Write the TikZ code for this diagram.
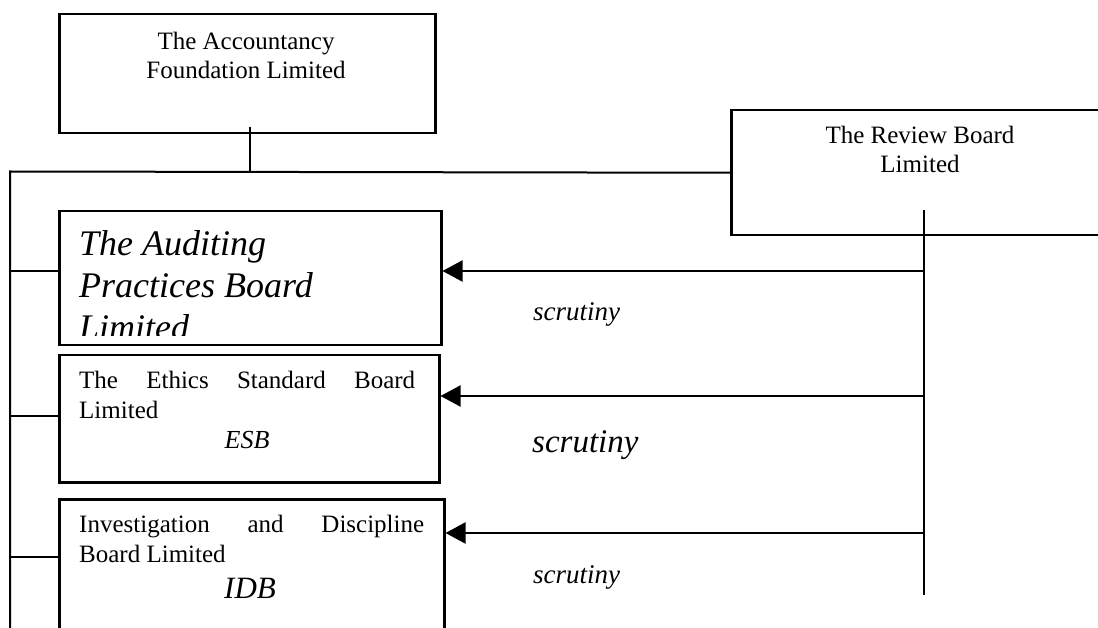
\documentclass[tikz,border=0pt]{standalone}
\usepackage{fontspec}
\setmainfont{Liberation Serif}
\usetikzlibrary{arrows.meta}
\hyphenpenalty=10000
\tolerance=10000
\begin{document}
\begin{tikzpicture}[x=1pt,y=-1pt]
  \tikzstyle{board}=[draw,line width=2.5pt,inner sep=0pt,anchor=north west]
  \tikzstyle{txt}=[inner sep=0pt,font=\fontsize{25}{29}\selectfont]
  \tikzstyle{scr}=[inner sep=0pt,anchor=base west,font=\itshape\fontsize{27}{30}\selectfont]
  \tikzstyle{link}=[line width=2pt]
  \tikzstyle{review}=[-{Triangle[length=20pt,width=21pt]},line width=2pt]
  \useasboundingbox (0,0) rectangle (1098,628);
  \clip (0,0) rectangle (1098,628);
  % the boards
  \node[board,minimum width=376pt,minimum height=119pt] (af) at (58,13) {};
  \node[board,minimum width=380pt,minimum height=125pt] (rb) at (730,109) {};
  \node[board,minimum width=382pt,minimum height=134pt] (apb) at (58,210) {};
  \node[board,minimum width=380pt,minimum height=127pt] (esb) at (58,354) {};
  \node[board,minimum width=385pt,minimum height=150pt] (idb) at (58,498) {};
  \node[txt,align=center,anchor=north] (aft) at (246,32) {The Accountancy\\Foundation Limited};
  \node[txt,align=center,anchor=north] (rbt) at (920,126) {The Review Board\\Limited};
  \begin{scope}
    \clip ([yshift=-2pt]apb.north west) rectangle ([yshift=11pt]apb.south east);
    \node[txt,anchor=north west,align=left,font=\itshape\fontsize{36}{42}\selectfont] (apbt) at (79,230) {The Auditing\\Practices Board\\Limited};
  \end{scope}
  \node[txt,anchor=north west,text width=336pt,align=justify,font=\fontsize{25}{30}\selectfont] (esbt) at (79,371) {The Ethics Standard Board Limited};
  \node[txt,anchor=base,font=\itshape\fontsize{26}{30}\selectfont] (esbab) at (247,448) {ESB};
  \node[txt,anchor=north west,text width=345pt,align=justify,font=\fontsize{25}{30}\selectfont] (idbt) at (79,515) {Investigation and Discipline\linebreak Board Limited};
  \node[txt,anchor=base,font=\itshape\fontsize{31}{34}\selectfont] (idbab) at (250,598) {IDB};
  \node[scr] (s1) at (533,321) {scrutiny};
  \node[scr,font=\itshape\fontsize{33}{36}\selectfont] (s2) at (532,452) {scrutiny};
  \node[scr] (s3) at (533,583) {scrutiny};
  % the lines
  \coordinate (afstub) at (250,127);
  \coordinate (busmid) at (250,173);
  \coordinate (busl) at (10,171.5);
  \coordinate (busend) at (10,640);
  \coordinate (l1) at (10,271);
  \coordinate (l2) at (10,416);
  \coordinate (l3) at (10,557);
  \draw[link] (afstub) -- (busmid);
  \draw[link] (rb.west) -- (busl) -- (busend);
  \draw[link] (l1) -- (l1 -| apb.west);
  \draw[link] (l2) -- (l2 -| esb.west);
  \draw[link] (l3) -- (l3 -| idb.west);
  \coordinate (rtop) at (924,210);
  \coordinate (rbot) at (924,595);
  \coordinate (r1) at (924,271);
  \coordinate (r2) at (924,396);
  \coordinate (r3) at (924,533);
  \draw[link] (rtop) -- (rbot);
  \draw[review] (r1) -- (r1 -| apb.east);
  \draw[review] (r2) -- (r2 -| esb.east);
  \draw[review] (r3) -- (r3 -| idb.east);
\end{tikzpicture}
\end{document}
